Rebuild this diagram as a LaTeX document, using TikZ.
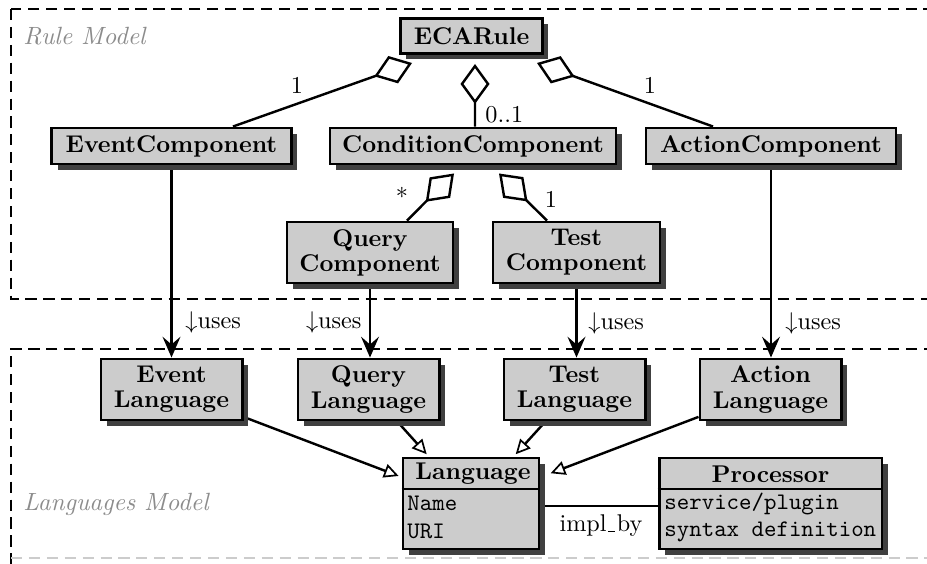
\documentclass[tikz,border=0pt]{standalone}
\usetikzlibrary{arrows.meta,shadows,backgrounds}
\begin{document}
\begin{tikzpicture}[x=0.4132pt,y=-0.4132pt,
  cls/.style={draw, line width=1.2pt, fill=black!20, font=\bfseries\fontsize{10}{10.4}\selectfont,
    align=center, inner sep=0pt,
    drop shadow={shadow xshift=2.4pt, shadow yshift=-2.4pt, fill=black!75, opacity=1}},
  dbox/.style={line width=1pt, dash pattern=on 4.6pt off 2.8pt},
  agg/.style={line width=1pt, {Diamond[open, length=16.5pt, width=12pt, line width=1pt]}-},
  uses/.style={line width=1pt, -{Stealth[length=8.6pt, width=7.4pt, inset=3.2pt]}},
  gen/.style={line width=1pt, -{Triangle[open, length=6pt, width=5.8pt, line width=0.7pt]}, shorten >=1.3pt},
  lbl/.style={inner sep=0pt},
  area/.style={inner sep=0pt, font=\fontsize{10.3}{12}\itshape, text=black!45},
  attr/.style={inner sep=0pt, font=\fontsize{9.8}{11}\ttfamily},
  hdr/.style={inner sep=0pt, font=\bfseries}
]
\useasboundingbox (0,0) rectangle (927,564);

% package areas
\draw[dbox] (11,9) rectangle (935,299);
\draw[dbox] (935,349) -- (11,349) -- (11,565);
\draw[dbox, black!20] (11,558) -- (935,558);
\node[area, anchor=west] (rulemodel) at (23,36) {Rule Model};
\node[area, anchor=base west] (langmodel) at (23,510) {Languages Model};

% rule model classes
\node[cls, minimum width=58.7pt, minimum height=14.5pt] (eca) at (471.5,36) {ECARule};
\node[cls, minimum width=98.8pt, minimum height=14.9pt] (ec) at (171.5,146) {EventComponent};
\node[cls, minimum width=118.2pt, minimum height=14.9pt] (cc) at (473,146) {ConditionComponent};
\node[cls, minimum width=103.3pt, minimum height=14.9pt] (ac) at (771,146) {ActionComponent};
\node[cls, minimum width=68.6pt, minimum height=25.2pt] (qc) at (370,252.5) {Query\\Component};
\node[cls, minimum width=69pt, minimum height=25.2pt] (tc) at (576.5,252.5) {Test\\Component};

% languages model classes
\node[cls, minimum width=58.3pt, minimum height=25.2pt] (el) at (171.5,389.5) {Event\\Language};
\node[cls, minimum width=58.3pt, minimum height=25.2pt] (ql) at (368.5,389.5) {Query\\Language};
\node[cls, minimum width=58.3pt, minimum height=25.2pt] (tl) at (574.5,389.5) {Test\\Language};
\node[cls, minimum width=58.3pt, minimum height=25.2pt] (al) at (770.5,389.5) {Action\\Language};

\node[cls, minimum width=56.2pt, minimum height=37.6pt] (lang) at (471,503.5) {};
\node[cls, minimum width=92.1pt, minimum height=37.6pt] (proc) at (770.5,503.5) {};
\coordinate (divy) at (0,489);
\draw[line width=1.2pt] (lang.west |- divy) -- (lang.east |- divy);
\draw[line width=1.2pt] (proc.west |- divy) -- (proc.east |- divy);
\node[hdr] (langh) at (473,474) {Language};
\node[attr, anchor=west] (lang1) at (407,503) {Name};
\node[attr, anchor=west] (lang2) at (407,531) {URI};
\node[hdr] (proch) at (770.5,474) {Processor};
\node[attr, anchor=west] (proc1) at (664,504) {service/plugin};
\node[attr, anchor=west] (proc2) at (664,532) {syntax definition};

% connectors
\begin{scope}[on background layer]
\draw[agg] ([shift={(-59.5,8)}]eca.south) -- ([shift={(61.5,0)}]ec.north);
\draw[agg] ([shift={(3.5,9)}]eca.south) -- ([shift={(2,0)}]cc.north);
\draw[agg] ([shift={(65.5,8)}]eca.south) -- ([shift={(-58,0)}]ac.north);
\draw[agg] ([shift={(-19,8)}]cc.south) -- ([shift={(37,0)}]qc.north);
\draw[agg] ([shift={(26,8)}]cc.south) -- ([shift={(-29.5,0)}]tc.north);

\draw[uses] (ec) -- (ec |- el.north);
\draw[uses] (qc) -- (qc |- ql.north);
\draw[uses] (tc) -- (tc |- tl.north);
\draw[uses] (ac) -- (ac |- al.north);

\draw[gen] (el) -- (lang);
\draw[gen] (ql) -- (lang);
\draw[gen] (tl) -- (lang);
\draw[gen, shorten >=4.5pt] (al) -- (lang);

\coordinate (assocy) at (0,506);
\draw[line width=1pt] (lang.east |- assocy) -- (proc.west |- assocy);
\end{scope}

% labels
\node[lbl] (m1) at (297,85) {1};
\node[lbl, anchor=west] (m2) at (485,114.5) {0..1};
\node[lbl] (m3) at (650,85) {1};
\node[lbl] (m4) at (402,196) {*};
\node[lbl] (m5) at (551,199.5) {1};

\node[lbl, anchor=west] (u1) at (185,322) {$\downarrow$uses};
\node[lbl, anchor=east] (u2) at (362,322) {$\downarrow$uses};
\node[lbl, anchor=west] (u3) at (588,323) {$\downarrow$uses};
\node[lbl, anchor=west] (u4) at (785,323) {$\downarrow$uses};

\node[lbl] (impl) at (601,526) {impl\kern.06em\vbox{\hrule width.3em height .5pt}\kern.06em by};
\end{tikzpicture}
\end{document}
